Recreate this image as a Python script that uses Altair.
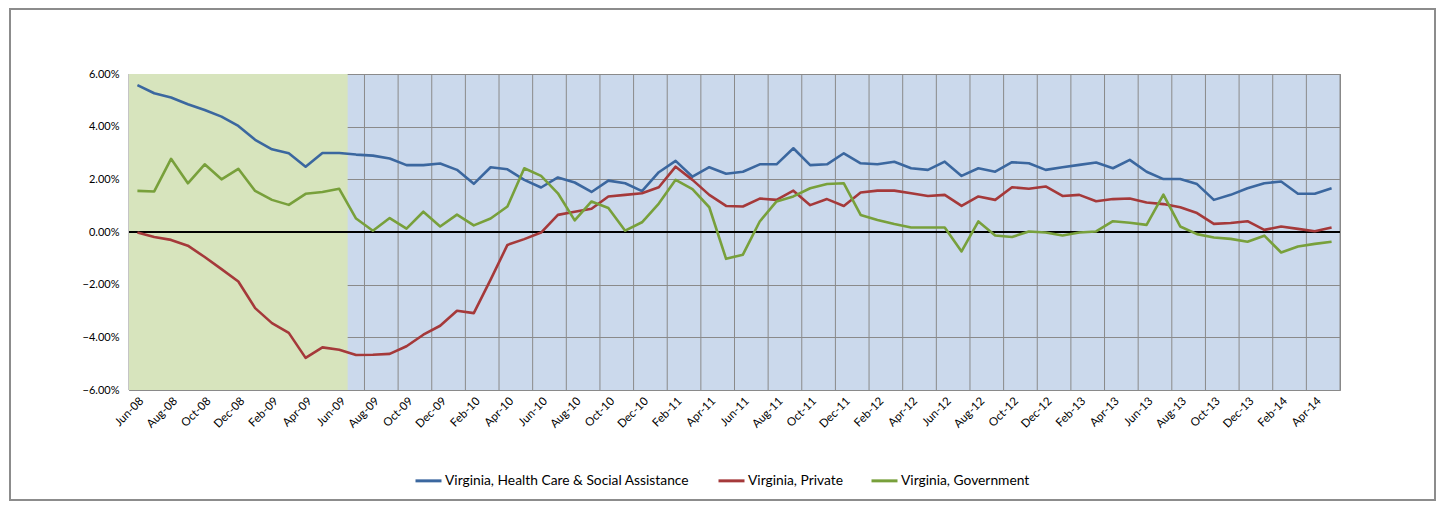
import altair as alt
import pandas as pd

# ---------------- data ----------------
months = list(pd.date_range("2008-06-01", periods=72, freq="MS").strftime("%b-%y"))

health = [5.58, 5.27, 5.11, 4.85, 4.63, 4.38, 4.03, 3.50, 3.14, 2.99,
          2.48, 3.00, 3.00, 2.94, 2.90, 2.79, 2.54, 2.54, 2.60, 2.36,
          1.83, 2.46, 2.38, 1.98, 1.69, 2.07, 1.88, 1.52, 1.95, 1.85,
          1.55, 2.27, 2.70, 2.10, 2.46, 2.21, 2.29, 2.57, 2.57, 3.18,
          2.54, 2.57, 2.99, 2.61, 2.57, 2.67, 2.42, 2.36, 2.67, 2.13,
          2.42, 2.29, 2.65, 2.61, 2.36, 2.46, 2.55, 2.64, 2.42, 2.74,
          2.29, 2.01, 2.01, 1.82, 1.22, 1.41, 1.66, 1.85, 1.92, 1.45,
          1.45, 1.66]

private = [-0.02, -0.19, -0.30, -0.52, -0.95, -1.41, -1.88, -2.89, -3.46, -3.83,
           -4.78, -4.38, -4.47, -4.67, -4.66, -4.63, -4.34, -3.90, -3.56, -2.99,
           -3.08, -1.81, -0.49, -0.27, -0.02, 0.65, 0.77, 0.88, 1.35, 1.41,
           1.47, 1.70, 2.48, 1.98, 1.41, 0.99, 0.97, 1.27, 1.22, 1.57,
           1.02, 1.25, 0.99, 1.50, 1.57, 1.57, 1.47, 1.37, 1.41, 0.99,
           1.35, 1.22, 1.70, 1.64, 1.73, 1.37, 1.41, 1.17, 1.25, 1.27,
           1.12, 1.06, 0.94, 0.72, 0.31, 0.34, 0.41, 0.08, 0.21, 0.12,
           0.03, 0.17]

government = [1.56, 1.54, 2.78, 1.85, 2.57, 2.00, 2.40, 1.56, 1.22, 1.03,
              1.45, 1.52, 1.64, 0.51, 0.05, 0.53, 0.13, 0.77, 0.21, 0.66,
              0.25, 0.51, 0.97, 2.42, 2.13, 1.47, 0.44, 1.16, 0.91, 0.05,
              0.37, 1.08, 1.98, 1.63, 0.94, -1.02, -0.86, 0.40, 1.16, 1.35,
              1.66, 1.82, 1.85, 0.65, 0.46, 0.30, 0.17, 0.17, 0.17, -0.74,
              0.40, -0.13, -0.19, 0.02, -0.02, -0.13, -0.02, 0.02, 0.41, 0.35,
              0.27, 1.42, 0.21, -0.08, -0.21, -0.26, -0.37, -0.14, -0.78, -0.55,
              -0.45, -0.37]

series_names = ["Virginia, Health Care & Social Assistance",
                "Virginia, Private",
                "Virginia, Government"]
series_colors = ["#3b679f", "#a5393a", "#78a03b"]

recession_start = [0]    # category index (Jun-08)
recession_end = [13]     # through Jun-09
y_ticks = [-6, -4, -2, 0, 2, 4, 6]
x_label_idx = list(range(0, 72, 2))
v_grid = list(range(0, 73, 2))

rows = []
for name, vals in zip(series_names, [health, private, government]):
    for i, (m, v) in enumerate(zip(months, vals)):
        rows.append({"idx": i, "month": m, "series": name, "value": v})
df = pd.DataFrame(rows)

# ---------------- chart ----------------
W, H = 1211, 316
FONT = "Lato"

xscale = alt.Scale(domain=[0, 72], nice=False, zero=False)
yscale = alt.Scale(domain=[-6, 6], nice=False)

label_arr = "[" + ",".join("'" + m + "'" for m in months) + "]"
xaxis = alt.Axis(values=[i + 0.5 for i in x_label_idx],
                 labelExpr=label_arr + "[floor(datum.value)]",
                 labelAngle=-45, labelAlign="right", labelBaseline="top",
                 labelPadding=5, grid=False, ticks=False, domain=False,
                 labelFont=FONT, labelFontSize=11.5, labelColor="#000000",
                 title=None, labelOverlap=False)
yaxis = alt.Axis(values=y_ticks, labelExpr="format(datum.value, '.2f') + '%'",
                 grid=True, gridColor="#8a8a8a", gridWidth=1,
                 ticks=False, domain=False, labelPadding=10,
                 labelFont=FONT, labelFontSize=11, labelColor="#000000",
                 title=None)

frame = alt.Chart(pd.DataFrame({"a": [0]})).mark_rect(
    filled=False, stroke="#8c8c8c", strokeWidth=2
).encode(x=alt.value(-119), x2=alt.value(1306), y=alt.value(-65), y2=alt.value(426))

vgrid = alt.Chart(pd.DataFrame({"b": v_grid})).mark_rule(
    color="#8a8a8a", strokeWidth=1
).encode(x=alt.X("b:Q", scale=xscale, axis=xaxis),
         y=alt.value(0), y2=alt.value(H))

shade = alt.Chart(pd.DataFrame({"s": recession_start, "e": recession_end})).mark_rect(
    color="#d7e4bd", opacity=1
).encode(x=alt.X("s:Q", scale=xscale, axis=xaxis), x2="e:Q",
         y=alt.value(0), y2=alt.value(H))

zero = alt.Chart(pd.DataFrame({"z": [0]})).mark_rule(
    color="#000000", strokeWidth=2
).encode(y=alt.Y("z:Q", scale=yscale, axis=yaxis))

lines = alt.Chart(df).transform_calculate(
    xpos="datum.idx + 0.5"
).mark_line(strokeWidth=2.6, strokeJoin="round").encode(
    x=alt.X("xpos:Q", scale=xscale, axis=xaxis),
    y=alt.Y("value:Q", scale=yscale, axis=yaxis),
    color=alt.Color("series:N",
                    scale=alt.Scale(domain=series_names, range=series_colors),
                    sort=series_names,
                    legend=alt.Legend(orient="none", legendX=285, legendY=392,
                                      direction="horizontal", title=None,
                                      symbolType="stroke", symbolSize=676,
                                      symbolStrokeWidth=3, labelFont=FONT,
                                      labelFontSize=13.8, labelColor="#000000",
                                      columnPadding=22, labelOffset=2,
                                      labelLimit=400)),
    order=alt.Order("idx:Q")
)

chart = alt.layer(frame, vgrid, shade, zero, lines).properties(
    width=W, height=H,
    autosize="none",
    padding={"left": 121, "top": 66, "right": 97, "bottom": 112},
    background="#ffffff"
).configure_view(
    fill="#cbd9ec", stroke="#868686", strokeWidth=1
)

chart.save("out.html", embed_options={"renderer": "svg", "actions": False})
